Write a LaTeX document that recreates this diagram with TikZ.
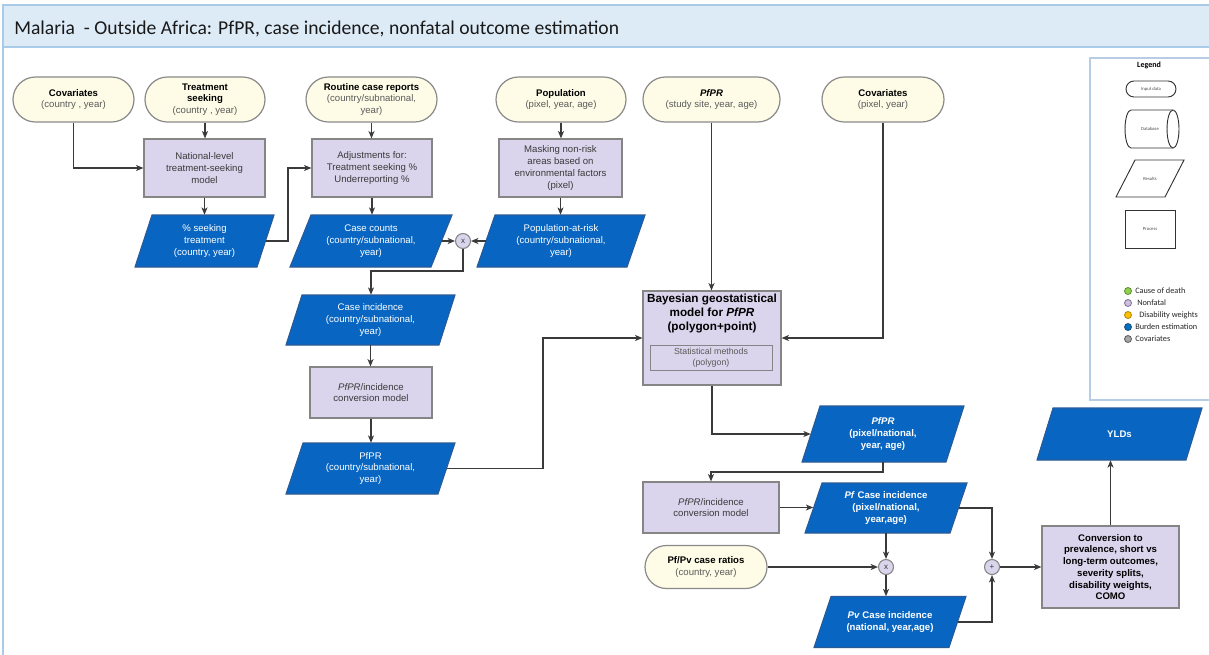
\documentclass[tikz,border=0pt]{standalone}
\usepackage{fontspec}
\setmainfont{Liberation Sans}
\newfontfamily\calib{Carlito}
\usetikzlibrary{shapes.misc,shapes.geometric,arrows.meta,calc}
\definecolor{cream}{HTML}{FEFCE6}
\definecolor{stadedge}{HTML}{8A8A8A}
\definecolor{lav}{HTML}{DAD4EC}
\definecolor{procedge}{HTML}{858585}
\definecolor{bluef}{HTML}{0866C2}
\definecolor{bluee}{HTML}{2A5A96}
\definecolor{subgray}{HTML}{5A5A5A}
\definecolor{proctext}{HTML}{3A3A3A}
\definecolor{linec}{HTML}{3A3A3A}
\definecolor{titlef}{HTML}{DDEBF7}
\definecolor{titlee}{HTML}{A9CBE8}
\definecolor{legedge}{HTML}{B7CDE6}
\definecolor{dgreen}{HTML}{92D050}
\definecolor{dgreene}{HTML}{5B8C2A}
\definecolor{dlav}{HTML}{CCC1DA}
\definecolor{dlave}{HTML}{7F6A9E}
\definecolor{dyel}{HTML}{FFC000}
\definecolor{dyele}{HTML}{B08600}
\definecolor{dblue}{HTML}{0070C0}
\definecolor{dbluee}{HTML}{1F4E79}
\definecolor{dgray}{HTML}{A6A6A6}
\definecolor{dgraye}{HTML}{595959}
\newcommand\nodefont{\fontsize{7.2}{8.8}\selectfont}
\newcommand\subt[1]{{\color{subgray}#1}}
\newcommand\para[8]{%
  \filldraw[#1] ({#3-#5/2+#7},{#4-#6/2}) -- ({#3+#5/2},{#4-#6/2}) -- ({#3+#5/2-#7},{#4+#6/2}) -- ({#3-#5/2},{#4+#6/2}) -- cycle;
  \node[#1text, sz={#5-#7}{#6}] (#2) at (#3,#4) {#8};}
\tikzset{
  sz/.style 2 args={minimum width={(#1)*0.75pt}, minimum height={(#2)*0.75pt}},
  inp/.style={rounded rectangle, draw=stadedge, fill=cream, line width=0.9pt, align=center, inner sep=0pt, font=\nodefont},
  proc/.style={rectangle, draw=procedge, fill=lav, line width=0.9pt, align=center, inner sep=0pt, font=\nodefont, text=proctext},
  res/.style={fill=bluef, draw=bluee, line width=0.8pt},
  restext/.style={align=center, inner sep=0pt, text=white, font=\nodefont},
  resb/.style={fill=bluef, draw=bluee, line width=0.8pt},
  resbtext/.style={align=center, inner sep=0pt, text=white, font=\nodefont\bfseries},
  legp/.style={fill=white, draw=black!80, line width=0.7pt},
  legptext/.style={align=center, inner sep=0pt, text=black!70, font=\calib\fontsize{3.5}{4}\selectfont},
  op/.style={circle, draw=procedge, fill=lav, line width=0.8pt, minimum size={15*0.75pt}, inner sep=0pt, font=\fontsize{6}{6}\selectfont, text=proctext},
  arr/.style={draw=linec, line width=0.95pt, -{Stealth[length=5.5pt,width=4.5pt,inset=1.5pt]}},
  legdot/.style={circle, minimum size={7*0.75pt}, inner sep=0pt, line width=0.6pt},
  legtxt/.style={anchor=west, inner sep=0pt, font=\calib\fontsize{6.2}{7}\selectfont, text=black!85},
}
\begin{document}
\begin{tikzpicture}[x=0.75pt,y=-0.75pt]
\useasboundingbox (0,0) rectangle (1209,654);
% frame
\fill[white] (0,0) rectangle (1209,654);
\draw[titlee, line width=1.6pt] (3,47) -- (3,660);
\filldraw[fill=titlef, draw=titlee, line width=1.6pt] (3,5) rectangle (1215,47);
\node[anchor=base west, inner sep=0pt, font=\calib\fontsize{14.7}{17}\selectfont, text=black!90] (title) at (14,34.5) {Malaria\ \ - Outside Africa: PfPR, case incidence, nonfatal outcome estimation};

% legend
\node[draw=legedge, line width=0.9pt, sz={125}{342}, inner sep=0pt] (legend) at (1152.5,229) {};
\node[inner sep=0pt, font=\calib\fontsize{6}{7}\selectfont\bfseries] (legtitle) at (1149,65) {Legend};
\node[rounded rectangle, draw=black!80, line width=0.7pt, sz={50}{16}, inner sep=0pt, font=\calib\fontsize{3.5}{4}\selectfont, text=black!70] (lin) at (1151,89) {Input data};
\draw[legp] (1131,110) -- (1173,110) arc[start angle=-90, end angle=90, x radius=6, y radius=19] -- (1131,148) arc[start angle=90, end angle=270, x radius=6, y radius=19] -- cycle;
\draw[legp] (1173,110) arc[start angle=-90, end angle=-270, x radius=6, y radius=19];
\node[legptext] (ldb) at (1150,129) {Database};
\para{legp}{lres}{1150}{178.5}{68}{37}{19}{Results}
\node[rectangle, draw=black!80, line width=0.7pt, fill=white, sz={50}{38}, inner sep=0pt, font=\calib\fontsize{3.5}{4}\selectfont, text=black!70] (lproc) at (1150,229) {Process};

\node[legdot, fill=dgreen, draw=dgreene] (d1) at (1128,291) {};
\node[legtxt] (t1) at (1135,291) {Cause of death};
\node[legdot, fill=dlav, draw=dlave] (d2) at (1128,303) {};
\node[legtxt] (t2) at (1137,303) {Nonfatal};
\node[legdot, fill=dyel, draw=dyele] (d3) at (1128,315) {};
\node[legtxt] (t3) at (1139,315) {Disability weights};
\node[legdot, fill=dblue, draw=dbluee] (d4) at (1128,327) {};
\node[legtxt] (t4) at (1135,327) {Burden estimation};
\node[legdot, fill=dgray, draw=dgraye] (d5) at (1128,339) {};
\node[legtxt] (t5) at (1135,339) {Covariates};

% inputs
\node[inp, sz={121}{45}] (cov1) at (73.5,99.5) {\textbf{Covariates}\\\subt{(country , year)}};
\node[inp, sz={120}{45}] (treat) at (205,99.5) {\textbf{Treatment}\\\textbf{seeking}\\\subt{(country , year)}};
\node[inp, sz={131}{45}] (routine) at (371.5,99.5) {\textbf{Routine case reports}\\\subt{(country/subnational,}\\\subt{year)}};
\node[inp, sz={130}{45}] (pop) at (561,99.5) {\textbf{Population}\\\subt{(pixel, year, age)}};
\node[inp, sz={137}{45}] (pfprin) at (711.5,99.5) {\textbf{\textit{PfPR}}\\\subt{(study site, year, age)}};
\node[inp, sz={122}{45}] (cov2) at (883,99.5) {\textbf{Covariates}\\\subt{(pixel, year)}};

% processes row 1
\node[proc, sz={121}{58}] (nat) at (204.5,168) {National-level\\treatment-seeking\\model};
\node[proc, sz={120}{58}] (adj) at (372,168) {Adjustments for:\\Treatment seeking \%\\Underreporting \%};
\node[proc, sz={123}{58}] (mask) at (560.5,168) {Masking non-risk\\areas based on\\environmental factors\\(pixel)};

% results row
\para{res}{seek}{204.5}{241}{139}{52}{17}{\% seeking\\treatment\\(country, year)}
\para{res}{cc}{371}{241}{162}{52}{21}{Case counts\\(country/subnational,\\year)}
\para{res}{par}{561}{241}{168}{52}{18}{Population-at-risk\\(country/subnational,\\year)}
\node[op] (x1) at (463,241) {x};

\para{res}{ci}{370.5}{320}{169}{50}{16}{Case incidence\\(country/subnational,\\year)}
\node[proc, sz={122}{51}] (conv1) at (371,392.5) {\textit{PfPR}/incidence\\conversion model};
\para{res}{pfc}{370.5}{468.5}{169}{51}{17}{PfPR\\(country/subnational,\\year)}

% Bayesian model
\node[proc, sz={138}{94}] (bay) at (712,338) {};
\node[align=center, inner sep=0pt, font=\fontsize{8.8}{10.2}\selectfont\bfseries] (baytxt) at (712,313.5) {Bayesian geostatistical\\model for \textit{PfPR}\\(polygon+point)};
\node[proc, sz={122}{25}, line width=0.7pt, font=\fontsize{6.6}{8}\selectfont, text=subgray] (stat) at (711,358) {Statistical methods\\(polygon)};

\para{resb}{pfpix}{883}{434}{162}{56}{18}{\textit{PfPR}\\(pixel/national,\\year, age)}
\node[proc, sz={136}{51}] (conv2) at (711,507.5) {\textit{PfPR}/incidence\\conversion model};
\para{resb}{pfci}{886}{508}{162}{50}{17}{\textit{Pf} Case incidence\\(pixel/national,\\year,age)}
\node[inp, sz={122}{43}] (ratio) at (706,567) {\textbf{Pf/Pv case ratios}\\\subt{(country, year)}};
\node[op] (x2) at (886,567) {x};
\node[op] (plus) at (992,567) {+};
\para{resb}{pv}{890}{622}{152}{51}{17}{\textit{Pv} Case incidence\\(national, year,age)}
\node[proc, sz={137}{82}, text=black, font=\nodefont\bfseries] (como) at (1110.5,567) {Conversion to\\prevalence, short vs\\long-term outcomes,\\severity splits,\\disability weights,\\COMO};
\para{resb}{yld}{1119.5}{434}{165}{52}{16}{YLDs}

% connectors
\draw[arr] (cov1.south) |- (nat.west);
\draw[arr] (treat.south) -- (treat.south |- nat.north);
\draw[arr] (nat.south) -- (nat.south |- seek.north);
\coordinate (k1) at (288,168);
\draw[arr] (seek.east) -| (k1) -- (adj.west);
\draw[arr] (routine.south) -- (routine.south |- adj.north);
\draw[arr] (adj.south) -- (adj.south |- cc.north);
\draw[arr] (pop.south) -- (pop.south |- mask.north);
\draw[arr] (mask.south) -- (mask.south |- par.north);
\draw[arr] (cc.east) -- (x1.west);
\draw[arr] (par.west) -- (x1.east);
\coordinate (k2) at (371,271);
\draw[arr] (x1.south) |- (k2) -- (k2 |- ci.north);
\draw[arr] (ci.south) -- (ci.south |- conv1.north);
\draw[arr] (conv1.south) -- (conv1.south |- pfc.north);
\coordinate (k3) at (543,338);
\draw[arr] (pfc.east) -| (k3) -- (bay.west);
\draw[arr] (pfprin.south) -- (pfprin.south |- bay.north);
\draw[arr] (cov2.south) |- (bay.east);
\draw[arr] (bay.south) |- (pfpix.west);
\coordinate (k4) at (711,472);
\draw[arr] (pfpix.south) |- (k4) -- (conv2.north);
\draw[arr] (conv2.east) -- (conv2.east -| pfci.west);
\draw[arr] (pfci.south) -- (x2.north);
\draw[arr] (pfci.east) -| (plus.north);
\draw[arr] (ratio.east) -- (x2.west);
\draw[arr] (x2.south) -- (x2.south |- pv.north);
\draw[arr] (pv.east) -| (plus.south);
\draw[arr] (plus.east) -- (como.west);
\draw[arr] (como.north) -- (como.north |- yld.south);
\end{tikzpicture}
\end{document}
